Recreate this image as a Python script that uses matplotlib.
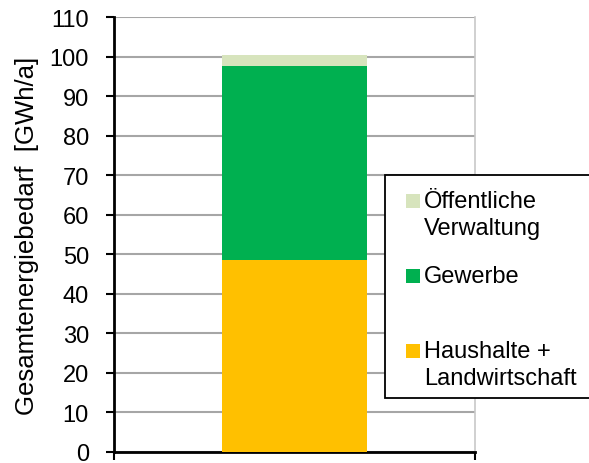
import matplotlib.pyplot as plt
from matplotlib.patches import Rectangle

plt.rcParams['font.family'] = ['Liberation Sans', 'DejaVu Sans']

# data (GWh/a), stacked bottom to top
sectors = ['Haushalte +\nLandwirtschaft', 'Gewerbe', 'Öffentliche\nVerwaltung']
values = [48.5, 49.0, 3.0]
colors = ['#FFC000', '#00B050', '#D7E4BD']
y_ticks = list(range(0, 111, 10))

W, H = 589, 464
fig = plt.figure(figsize=(W / 100, H / 100), dpi=100)
ax = fig.add_axes([114 / W, 1 - 453 / H, (475 - 114) / W, (453 - 18) / H])

bottom = 0
for val, col in zip(values, colors):
    ax.bar(0, val, width=0.4, bottom=bottom, color=col, zorder=3)
    bottom += val

ax.set_xlim(-0.5, 0.5)
ax.set_ylim(0, 110)
ax.set_yticks(y_ticks)
ax.set_xticks([-0.5, 0.5])
ax.set_xticklabels([])
ax.yaxis.grid(True, color='#a6a6a6', linewidth=1.5, zorder=0)

for s in ['left', 'bottom']:
    ax.spines[s].set_linewidth(2)
    ax.spines[s].set_color('black')
ax.spines['top'].set_visible(False)
ax.spines['right'].set_color('#c8c8c8')
ax.spines['right'].set_linewidth(1.2)

ax.tick_params(axis='y', direction='out', length=6, width=1.5, labelsize=17, pad=12)
ax.tick_params(axis='x', direction='out', length=6, width=1.5)
ax.set_ylabel('Gesamtenergiebedarf  [GWh/a]', fontsize=18.5, labelpad=8)


def fx(px):
    return px / W


def fy(py):
    return 1 - py / H


# legend box drawn like the Excel original
fig.patches.append(Rectangle((fx(385), fy(399)), fx(220), (399 - 176) / H,
                             transform=fig.transFigure, facecolor='white',
                             edgecolor='black', linewidth=1.3, zorder=5))
entries = [
    (colors[2], ['Öffentliche', 'Verwaltung'], 202),
    (colors[1], ['Gewerbe'], 277),
    (colors[0], ['Haushalte +', 'Landwirtschaft'], 352),
]
for col, lines, y0 in entries:
    fig.patches.append(Rectangle((fx(406), fy(y0 + 7)), fx(14), 14 / H,
                                 transform=fig.transFigure, facecolor=col,
                                 edgecolor='none', zorder=6))
    for i, line in enumerate(lines):
        fig.text(fx(424), fy(y0 + i * 27), line, fontsize=17,
                 va='center', ha='left', zorder=7)

fig.savefig('out.png', dpi=100)
